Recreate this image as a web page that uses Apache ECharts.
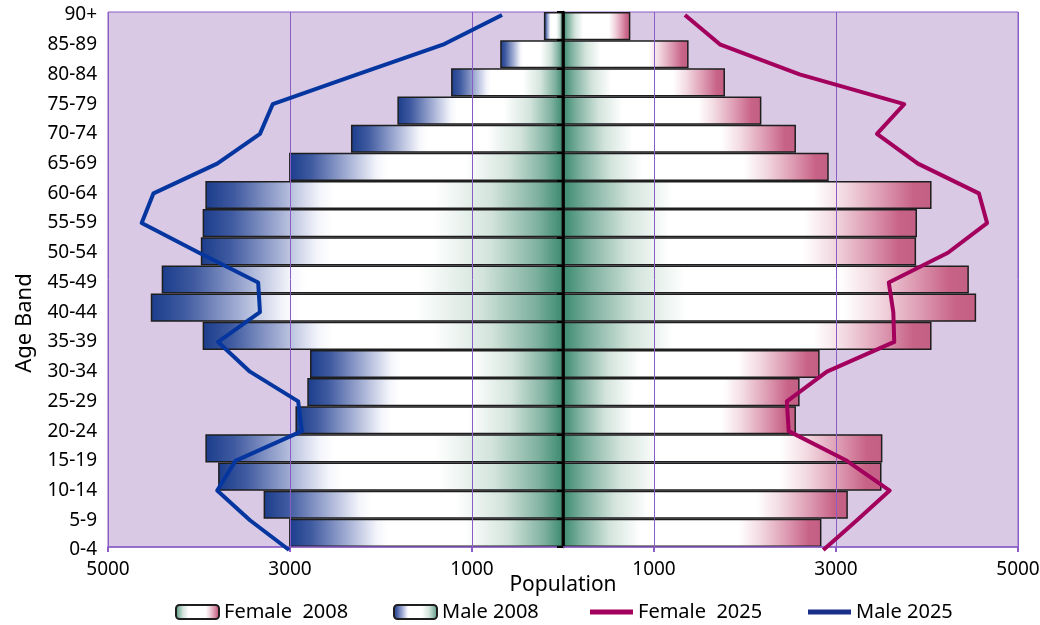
<!DOCTYPE html>
<html>
<head>
<meta charset="utf-8">
<script src="https://cdn.jsdelivr.net/npm/echarts@6/dist/echarts.min.js"></script>
<style>
  html, body { margin: 0; padding: 0; background: #ffffff; }
  #chart { width: 1040px; height: 625px; }
</style>
</head>
<body>
<div id="chart"></div>
<script>
// Age bands, youngest first (bottom of the pyramid)
const ageBands = ['0-4', '5-9', '10-14', '15-19', '20-24', '25-29', '30-34', '35-39', '40-44',
  '45-49', '50-54', '55-59', '60-64', '65-69', '70-74', '75-79', '80-84', '85-89', '90+'];

// Population counts per age band
const male2008   = [3010, 3290, 3790, 3930, 2940, 2810, 2780, 3960, 4530, 4410, 3980, 3960, 3930, 3010, 2330, 1820, 1230, 690, 210];
const female2008 = [2840, 3130, 3500, 3510, 2560, 2600, 2820, 4050, 4540, 4460, 3880, 3890, 4050, 2920, 2560, 2180, 1780, 1380, 740];
const male2025   = [3010, 3440, 3800, 3600, 2870, 2910, 3440, 3790, 3330, 3350, 4000, 4630, 4500, 3800, 3330, 3190, 2260, 1320, 670];
const female2025 = [2860, 3230, 3590, 3120, 2480, 2460, 2900, 3640, 3630, 3580, 4230, 4660, 4570, 3900, 3450, 3750, 2600, 1730, 1340];

// Population axis: ticks every 2000 from 5000 on the male side to 5000 on the female side
const popTicks = [5000, 3000, 1000, 1000, 3000, 5000];

const FONT = '"Noto Sans", "Open Sans", sans-serif';
const PURPLE = '#8a5dc6';

const maleFill = new echarts.graphic.LinearGradient(0, 0, 1, 0, [
  { offset: 0,    color: '#1b3d8c' },
  { offset: 0.08, color: '#3f5aa0' },
  { offset: 0.20, color: '#9aa6cf' },
  { offset: 0.32, color: '#f4f5fb' },
  { offset: 0.36, color: '#ffffff' },
  { offset: 0.64, color: '#ffffff' },
  { offset: 0.80, color: '#d3e4dc' },
  { offset: 0.93, color: '#7fb1a0' },
  { offset: 1,    color: '#3b8a70' }
]);
const femaleFill = new echarts.graphic.LinearGradient(0, 0, 1, 0, [
  { offset: 0,    color: '#3b8a70' },
  { offset: 0.07, color: '#7fb1a0' },
  { offset: 0.18, color: '#d3e4dc' },
  { offset: 0.30, color: '#ffffff' },
  { offset: 0.68, color: '#ffffff' },
  { offset: 0.76, color: '#f3dbe3' },
  { offset: 0.87, color: '#dc98b0' },
  { offset: 0.95, color: '#c86387' },
  { offset: 1,    color: '#c45f85' }
]);

const legendText = { fontFamily: FONT, fontSize: 20, color: '#000' };
// one legend block per entry so each sits at its own slot along the bottom
function legendAt(left, item, iconHeight) {
  return { left: left, top: 602, padding: 0, itemWidth: 43, itemHeight: iconHeight,
    textStyle: legendText, data: [item] };
}

const chart = echarts.init(document.getElementById('chart'), null, { renderer: 'canvas' });

chart.setOption({
  animation: false,
  backgroundColor: '#ffffff',
  textStyle: { fontFamily: FONT, color: '#000' },
  grid: [
    { left: 108, right: 22, top: 12, bottom: 78, show: true, outerBoundsMode: 'none',
      backgroundColor: '#d9c9e5', borderColor: PURPLE, borderWidth: 1 },
    { left: 108, right: 22, top: 15, bottom: 75, show: false, outerBoundsMode: 'none' }
  ],
  legend: [
    legendAt(175, 'Female  2008', 14),
    legendAt(393, 'Male 2008', 14),
    legendAt(590, { name: 'Female  2025', icon: 'rect' }, 5),
    legendAt(808, { name: 'Male 2025', icon: 'rect' }, 5)
  ],
  graphic: [{
    type: 'text', x: 25, y: 323, rotation: Math.PI / 2,
    style: { text: 'Age Band', fontFamily: FONT, fontSize: 22, fill: '#000',
      align: 'center', verticalAlign: 'middle' }
  }],
  xAxis: [
    { // value scale for the bars
      gridIndex: 0, type: 'value', min: -5000, max: 5000,
      axisLine: { show: false }, axisTick: { show: false },
      axisLabel: { show: false }, splitLine: { show: false }
    },
    { // ticks, labels and gridlines, reading outward from the centre
      gridIndex: 0, type: 'value', min: 0, max: 10000, interval: 2000, position: 'bottom', z: 3,
      axisLine: { show: true, lineStyle: { color: PURPLE, width: 1.5 } },
      axisTick: { show: true, length: 5, lineStyle: { color: PURPLE, width: 2 } },
      axisLabel: {
        margin: 13, fontSize: 19, fontFamily: FONT, color: '#000',
        formatter: v => String(popTicks[Math.round(v / 2000)])
      },
      splitLine: { show: true, lineStyle: { color: PURPLE, width: 1 } },
      name: 'Population', nameLocation: 'middle', nameGap: 28, nameMoveOverlap: false,
      nameTextStyle: { fontSize: 21, fontFamily: FONT, color: '#000' }
    },
    { // value scale for the 2025 projection lines
      gridIndex: 1, type: 'value', min: -5000, max: 5000, show: false
    }
  ],
  yAxis: [
    { // centre axis line with boundary ticks
      gridIndex: 0, type: 'category', data: ageBands, z: 3,
      axisLine: { show: true, onZero: true, onZeroAxisIndex: 0, lineStyle: { color: '#000', width: 2.5 } },
      axisTick: { show: true, length: 6, lineStyle: { color: '#000', width: 2 } },
      axisLabel: { show: false }, splitLine: { show: false }
    },
    { // category points for the 2025 lines, with the age band labels on the left
      gridIndex: 1, type: 'category', data: ageBands, boundaryGap: false, position: 'left',
      axisLine: { show: false, onZero: false }, axisTick: { show: false }, splitLine: { show: false },
      axisLabel: { margin: 11, fontSize: 19, fontFamily: FONT, color: '#000', verticalAlign: 'middle' }
    }
  ],
  series: [
    {
      name: 'Male 2008', type: 'bar', xAxisIndex: 0, yAxisIndex: 0,
      barCategoryGap: '0%', barGap: '-100%',
      itemStyle: { color: maleFill, borderColor: '#1e1e1e', borderWidth: 1.5 },
      data: male2008.map(v => -v)
    },
    {
      name: 'Female  2008', type: 'bar', xAxisIndex: 0, yAxisIndex: 0,
      barCategoryGap: '0%', barGap: '-100%',
      itemStyle: { color: femaleFill, borderColor: '#1e1e1e', borderWidth: 1.5 },
      data: female2008
    },
    {
      name: 'Female  2025', type: 'line', xAxisIndex: 2, yAxisIndex: 1, z: 5,
      showSymbol: false, symbol: 'none', clip: false,
      lineStyle: { color: '#a3005e', width: 4, join: 'round' },
      itemStyle: { color: '#a3005e' },
      data: female2025
    },
    {
      name: 'Male 2025', type: 'line', xAxisIndex: 2, yAxisIndex: 1, z: 5,
      showSymbol: false, symbol: 'none', clip: false,
      lineStyle: { color: '#0536a0', width: 4, join: 'round' },
      itemStyle: { color: '#1a2f8a' },
      data: male2025.map(v => -v)
    }
  ]
});
</script>
</body>
</html>
